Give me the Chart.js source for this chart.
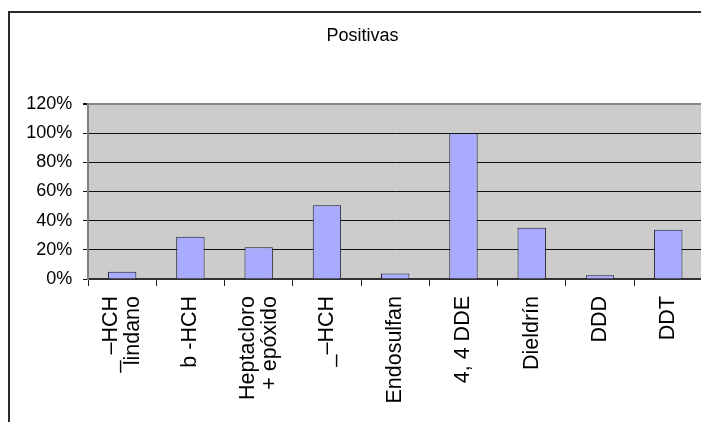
<!DOCTYPE html>
<html>
<head>
<meta charset="utf-8">
<script src="https://cdn.jsdelivr.net/npm/chart.js@4/dist/chart.umd.min.js"></script>
<style>
  html, body { margin: 0; padding: 0; background: #fff; width: 701px; height: 422px; overflow: hidden; }
  #wrap { position: relative; width: 710px; height: 422px; }
</style>
</head>
<body>
<div id="wrap"><canvas id="chart" width="710" height="422"></canvas></div>
<script>
// Share of positive samples per compound
const categories = [
  ["_ –HCH", "lindano"],
  "b -HCH",
  ["Heptacloro", "+ epóxido"],
  "_–HCH",
  "Endosulfan",
  "4, 4 DDE",
  "Dieldrín",
  "DDD",
  "DDT"
];
const positivas = [4.9, 28.9, 21.8, 50.6, 3.8, 100, 35.1, 2.6, 33.7];
const yTicks = [0, 20, 40, 60, 80, 100, 120];

const SANS = '"Liberation Sans", Arial, sans-serif';
const LABEL_PITCH = 22;

// grey plot background + frame lines around the figure
const frame = {
  id: 'frame',
  beforeDraw(chart) {
    const { ctx, chartArea: a } = chart;
    ctx.save();
    ctx.fillStyle = '#cccccc';
    ctx.fillRect(a.left, a.top, a.right - a.left, a.bottom - a.top);
    ctx.restore();
  },
  afterDraw(chart) {
    const { ctx } = chart;
    ctx.save();
    ctx.fillStyle = '#2b2b2b';
    ctx.fillRect(8, 11, chart.width, 2);
    ctx.fillRect(8, 11, 2, chart.height);
    ctx.restore();
  }
};

new Chart(document.getElementById('chart'), {
  type: 'bar',
  data: {
    labels: categories,
    datasets: [{
      data: positivas,
      backgroundColor: '#a9abff',
      borderColor: '#1c1c2e',
      borderWidth: 1,
      barPercentage: 0.416,
      categoryPercentage: 1
    }]
  },
  options: {
    responsive: false,
    animation: false,
    devicePixelRatio: 1,
    layout: { padding: { left: 22.6, right: 7.6, top: 0, bottom: 0 } },
    plugins: {
      legend: { display: false },
      tooltip: { enabled: false },
      title: {
        display: true,
        text: 'Positivas',
        color: '#000',
        font: { family: SANS, size: 18, weight: 'normal', lineHeight: 1.2 },
        padding: { top: 25.5, bottom: 56.9 }
      }
    },
    scales: {
      x: {
        type: 'category',
        offset: true,
        grid: {
          offset: true,
          drawOnChartArea: false,
          drawTicks: true,
          tickLength: 7,
          tickColor: '#222',
          lineWidth: 1
        },
        border: { color: '#333', width: 2 },
        ticks: {
          autoSkip: false,
          minRotation: 90,
          maxRotation: 90,
          padding: 10,
          color: '#000',
          labelOffset: -LABEL_PITCH / 2,
          // one-line names get a blank leading line at half pitch so every name sits centred on its bar
          callback: (v, i) => Array.isArray(categories[i]) ? categories[i] : ['', categories[i]],
          font: (ctx) => ({
            family: SANS,
            size: 21.5,
            lineHeight: (Array.isArray(categories[ctx.index]) ? LABEL_PITCH : LABEL_PITCH / 2) + 'px'
          })
        },
        afterFit: (s) => { s.height = 143; }
      },
      y: {
        min: 0,
        max: 120,
        afterBuildTicks: (s) => { s.ticks = yTicks.map(v => ({ value: v })); },
        grid: {
          color: (ctx) => (ctx.tick && ctx.tick.value === 120) ? '#858585' : '#111',
          lineWidth: (ctx) => (ctx.tick && ctx.tick.value === 120) ? 2 : 1,
          tickColor: '#111',
          tickLength: 5,
          drawTicks: true
        },
        border: { color: '#808080', width: 2 },
        ticks: {
          autoSkip: false,
          padding: 10.7,
          color: '#000',
          font: { family: SANS, size: 18 },
          callback: (v) => v + '%'
        },
        afterFit: (s) => { s.width = 65.4; }
      }
    }
  },
  plugins: [frame]
});
</script>
</body>
</html>
